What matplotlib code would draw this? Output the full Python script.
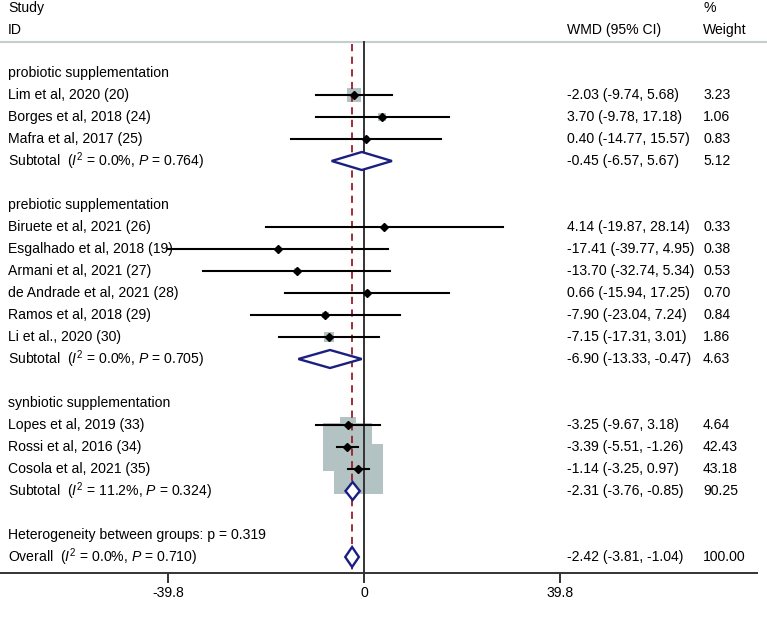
import matplotlib.pyplot as plt
from matplotlib.patches import Rectangle, Polygon

plt.rcParams['font.family'] = ['Liberation Sans', 'DejaVu Sans']
plt.rcParams['mathtext.fontset'] = 'custom'
plt.rcParams['mathtext.rm'] = 'Liberation Sans'
plt.rcParams['mathtext.it'] = 'Liberation Sans:italic'

# data
groups = ["probiotic supplementation", "prebiotic supplementation", "synbiotic supplementation"]
studies = [
    ["Lim et al, 2020 (20)", "Borges et al, 2018 (24)", "Mafra et al, 2017 (25)"],
    ["Biruete et al, 2021 (26)", "Esgalhado et al, 2018 (19)", "Armani et al, 2021 (27)",
     "de Andrade et al, 2021 (28)", "Ramos et al, 2018 (29)", "Li et al., 2020 (30)"],
    ["Lopes et al, 2019 (33)", "Rossi et al, 2016 (34)", "Cosola et al, 2021 (35)"],
]
wmd = [[-2.03, 3.70, 0.40], [4.14, -17.41, -13.70, 0.66, -7.90, -7.15], [-3.25, -3.39, -1.14]]
lo = [[-9.74, -9.78, -14.77], [-19.87, -39.77, -32.74, -15.94, -23.04, -17.31], [-9.67, -5.51, -3.25]]
hi = [[5.68, 17.18, 15.57], [28.14, 4.95, 5.34, 17.25, 7.24, 3.01], [3.18, -1.26, 0.97]]
weight = [[3.23, 1.06, 0.83], [0.33, 0.38, 0.53, 0.70, 0.84, 1.86], [4.64, 42.43, 43.18]]

sub_wmd = [-0.45, -6.90, -2.31]
sub_lo = [-6.57, -13.33, -3.76]
sub_hi = [5.67, -0.47, -0.85]
sub_weight = [5.12, 4.63, 90.25]
sub_i2 = ["0.0%", "0.0%", "11.2%"]
sub_p = ["0.764", "0.705", "0.324"]

overall = (-2.42, -3.81, -1.04)
overall_i2 = "0.0%"
overall_p = "0.710"
het_p = "0.319"
ticks = [-39.8, 0, 39.8]

px = 4.925  # pixels per unit on the x axis
fig = plt.figure(figsize=(7.67, 6.21), dpi=100)
ax = fig.add_axes([0, 0, 1, 1])
ax.set_xlim(-364 / px, (767 - 364) / px)
ax.set_ylim(621, 0)
ax.axis('off')

fs = 10.1
x_lab = 8 / px - 364 / px
x_wmd = (567 - 364) / px
x_wt = (703 - 364) / px
navy = '#1a1f80'
boxc = '#b3c2c2'


def diamond(y, est, l, h, hgt=18):
    ax.add_patch(Polygon([[l, y], [est, y - hgt / 2], [h, y], [est, y + hgt / 2]],
                         closed=True, fc='white', ec=navy, lw=1.7, zorder=5))


def ci_text(y, est, l, h, w):
    ax.text(x_wmd, y, f"{est:.2f} ({l:.2f}, {h:.2f})", fontsize=fs, va='center')
    ax.text(x_wt, y, f"{w:.2f}", fontsize=fs, va='center')


# headers
ax.text(x_lab, 8, "Study", fontsize=fs, va='center')
ax.text(x_lab, 30, "ID", fontsize=fs, va='center')
ax.text(x_wmd, 30, "WMD (95% CI)", fontsize=fs, va='center')
ax.text(x_wt, 8, "%", fontsize=fs, va='center')
ax.text(x_wt, 30, "Weight", fontsize=fs, va='center')
ax.plot([-364 / px, 767 / px], [42, 42], color='#c5cece', lw=1.5)

row = 0
y0, dy = 73, 22
for g in range(len(groups)):
    y = y0 + dy * row
    ax.text(x_lab, y, groups[g], fontsize=fs, va='center')
    row += 1
    for i in range(len(studies[g])):
        y = y0 + dy * row
        ax.text(x_lab, y, studies[g][i], fontsize=fs, va='center')
        side = 7.5 * weight[g][i] ** 0.5
        ax.add_patch(Rectangle((wmd[g][i] - side / 2 / px, y - side / 2), side / px, side,
                               fc=boxc, ec='none', zorder=1))
        ax.plot([lo[g][i], hi[g][i]], [y, y], color='black', lw=1.5, zorder=3)
        ax.plot(wmd[g][i], y, 'D', color='black', ms=4.5, zorder=4)
        ci_text(y, wmd[g][i], lo[g][i], hi[g][i], weight[g][i])
        row += 1
    y = y0 + dy * row
    ax.text(x_lab, y, f"Subtotal  ($\\mathit{{I}}^2$ = {sub_i2[g]}, $\\mathit{{P}}$ = {sub_p[g]})",
            fontsize=fs, va='center')
    diamond(y, sub_wmd[g], sub_lo[g], sub_hi[g])
    ci_text(y, sub_wmd[g], sub_lo[g], sub_hi[g], sub_weight[g])
    row += 2

y = y0 + dy * row
ax.text(x_lab, y, f"Heterogeneity between groups: p = {het_p}", fontsize=fs, va='center')
row += 1
y = y0 + dy * row
ax.text(x_lab, y, f"Overall  ($\\mathit{{I}}^2$ = {overall_i2}, $\\mathit{{P}}$ = {overall_p})",
        fontsize=fs, va='center')
diamond(y, overall[0], overall[1], overall[2], hgt=20)
ci_text(y, overall[0], overall[1], overall[2], 100.0)

# reference lines and axis
y_axis = 573
ax.plot([0, 0], [42, y_axis], color='#333333', lw=1.4, zorder=2)
ax.plot([overall[0], overall[0]], [44, y_axis], color='#9b1c2a', lw=1.3,
        ls=(0, (4, 3)), zorder=2)
ax.plot([-364 / px, (757 - 364) / px], [y_axis, y_axis], color='#333333', lw=1.4)
for t in ticks:
    ax.plot([t, t], [y_axis, y_axis + 9], color='#333333', lw=1.4)
    ax.text(t, y_axis + 20, f"{t:g}", fontsize=fs, ha='center', va='center')

fig.savefig('out.png', dpi=100)
